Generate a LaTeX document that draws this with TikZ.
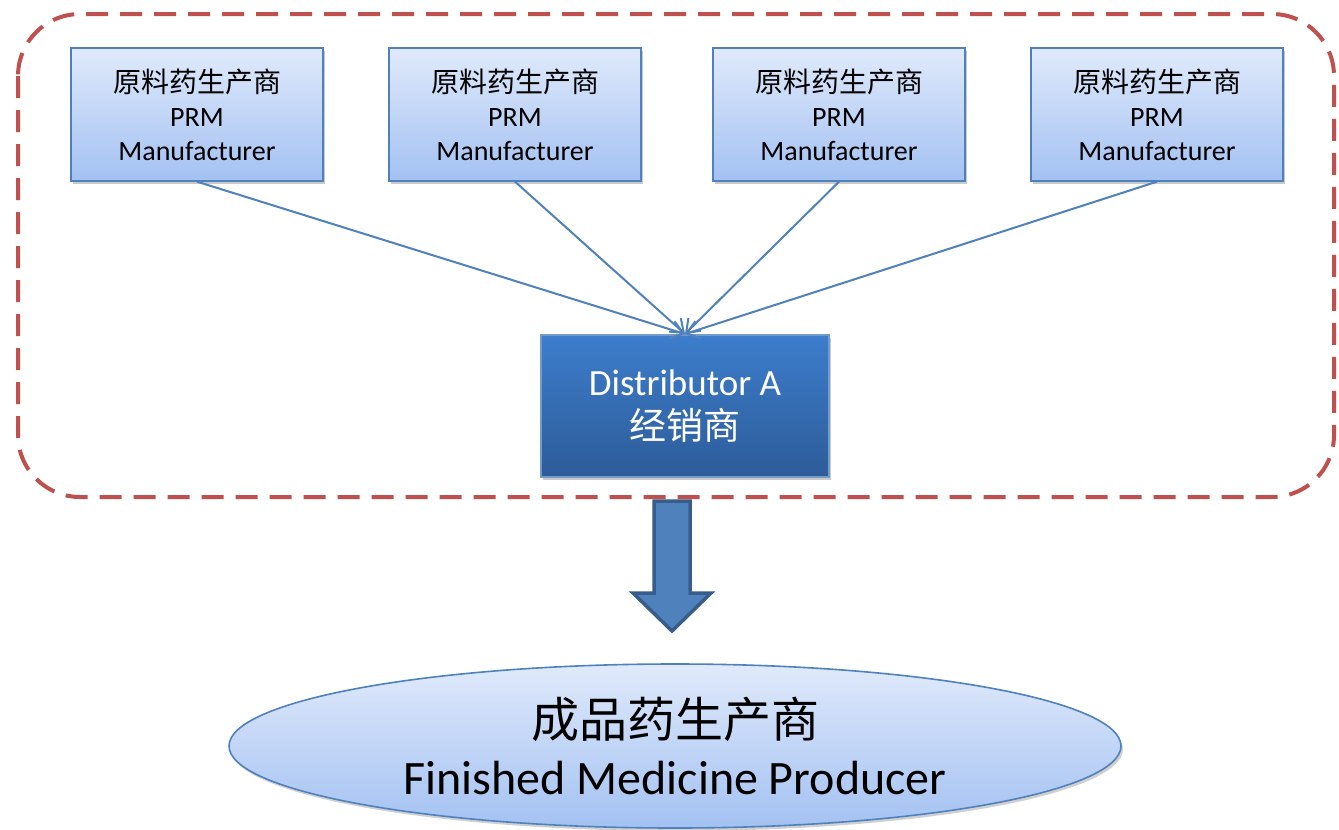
\documentclass[tikz,border=0pt]{standalone}
\usepackage{fontspec}
\setmainfont{Carlito}
\newfontfamily\cjk{Noto Sans CJK SC}
\usetikzlibrary{arrows.meta,shadows,shapes.geometric}
\definecolor{accent}{HTML}{4F81BD}
\definecolor{accentdark}{HTML}{385D8A}
\definecolor{dashred}{HTML}{C0504D}
\definecolor{lighttop}{HTML}{E0EAFB}
\definecolor{lightbot}{HTML}{A3C1F2}
\definecolor{disttop}{HTML}{3D7DCC}
\definecolor{distbot}{HTML}{2D5C98}
\tikzset{
  prmbox/.style={draw=accent, line width=1.3pt, top color=lighttop, bottom color=lightbot,
    minimum width=252pt, minimum height=133pt, inner sep=0pt, align=center,
    font=\fontsize{28}{34}\selectfont,
    drop shadow={shadow xshift=2pt, shadow yshift=-3pt, opacity=0.35, fill=black!60}},
  distbox/.style={draw=accent!80, line width=1.3pt, top color=disttop, bottom color=distbot,
    minimum width=288pt, minimum height=142pt, inner sep=0pt, align=center, text=white,
    font=\fontsize{37}{44}\selectfont,
    drop shadow={shadow xshift=2pt, shadow yshift=-3pt, opacity=0.35, fill=black!60}},
  feed/.style={draw=accent, line width=2pt, -{Straight Barb[length=12pt,width=18pt,line width=2pt]}},
  producer/.style={ellipse, draw=accent, line width=1.6pt, top color=lighttop, bottom color=lightbot,
    minimum width=892pt, minimum height=164pt, inner sep=0pt, align=center,
    font=\fontsize{48}{57}\selectfont,
    drop shadow={shadow xshift=2pt, shadow yshift=-3pt, opacity=0.3, fill=black!60}},
  scopebox/.style={draw=dashred, line width=4pt, dash pattern=on 22pt off 12pt, rounded corners=62pt},
  bigarrow/.style={fill=accent, draw=accentdark, line width=3.5pt, line join=miter}
}
\begin{document}
\begin{tikzpicture}[x=1pt,y=-1pt]
\useasboundingbox (0,0) rectangle (1339,830);
\fill[white] (0,0) rectangle (1339,830);

% supplier scope
\draw[scopebox] (18,14) rectangle (1334,497);

% raw material manufacturers
\node[prmbox] (p1) at (197,114.5) {{\cjk 原料药生产商}\\PRM\\Manufacturer};
\node[prmbox] (p2) at (515,114.5) {{\cjk 原料药生产商}\\PRM\\Manufacturer};
\node[prmbox] (p3) at (839,114.5) {{\cjk 原料药生产商}\\PRM\\Manufacturer};
\node[prmbox] (p4) at (1157,114.5) {{\cjk 原料药生产商}\\PRM\\Manufacturer};

% distributor
\node[distbox] (d) at (685,406) {Distributor A\\{\cjk 经销商}};

\coordinate (dtop) at (685,334);
\foreach \p in {p1,p2,p3,p4}
  \draw[feed] (\p.south) -- (dtop);

% block arrow down to the producer
\draw[bigarrow] (654,501) -- (690,501) -- (690,593) -- (711,593) -- (672,631)
  -- (633,593) -- (654,593) -- cycle;

% finished medicine producer
\node[producer] (f) at (675,746) {{\cjk 成品药生产商}\\Finished Medicine Producer};
\end{tikzpicture}
\end{document}
